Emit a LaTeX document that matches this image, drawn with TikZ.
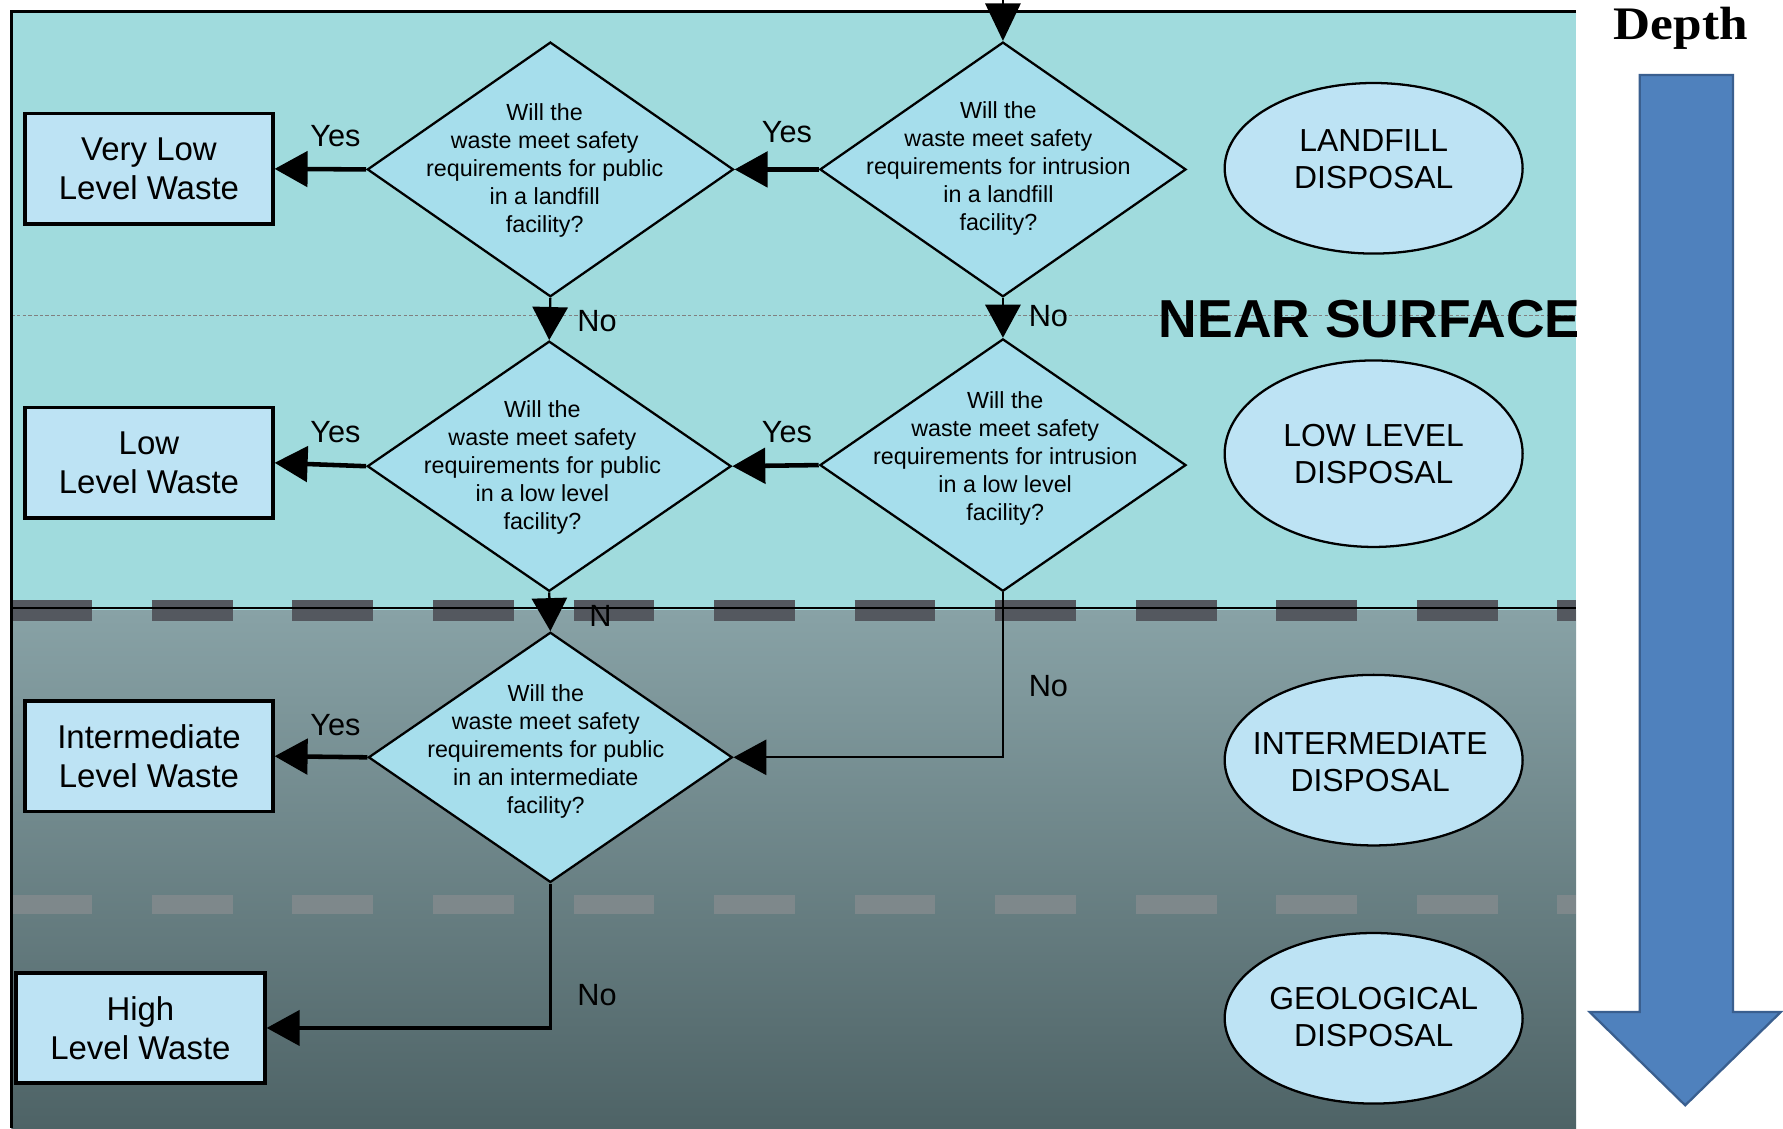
\documentclass[tikz,border=0pt]{standalone}
\usepackage{fontspec}
\setmainfont{Liberation Sans}
\newfontfamily\depthfont{Liberation Serif}
\usetikzlibrary{shapes.geometric,arrows.meta}
\definecolor{bgtop}{RGB}{160,219,221}
\definecolor{bgmid}{RGB}{136,162,166}
\definecolor{bgbot}{RGB}{78,99,102}
\definecolor{dashA}{RGB}{84,88,95}
\definecolor{dashB}{RGB}{126,136,139}
\definecolor{boxfill}{RGB}{189,227,244}
\definecolor{diafill}{RGB}{166,222,236}
\definecolor{arrowfill}{RGB}{79,129,189}
\definecolor{arrowline}{RGB}{58,95,143}
\begin{document}
\begin{tikzpicture}[x=1pt,y=-1pt,
  wbox/.style={draw=black, line width=3, fill=boxfill, minimum width=218, minimum height=97, inner sep=0, align=center, font=\fontsize{29}{34}\selectfont},
  dia/.style={diamond, draw=black, line width=2, fill=diafill, minimum width=322, minimum height=224, inner sep=0},
  qtext/.style={align=center, inner sep=0, font=\fontsize{20.5}{24.5}\selectfont},
  ell/.style={ellipse, draw=black, line width=2, fill=boxfill, minimum width=262, minimum height=150, inner sep=0},
  etext/.style={align=center, inner sep=0, font=\fontsize{28}{32.5}\selectfont},
  lab/.style={inner sep=0, font=\fontsize{27}{31}\selectfont},
  arr/.style={line width=4, -{Triangle[length=29,width=31]}},
  arrthin/.style={line width=2, -{Triangle[length=29,width=31]}}]
\useasboundingbox (0,0) rectangle (1568,992);
\fill[white] (0,0) rectangle (1568,992);
% backgrounds
\fill[bgtop] (10,10) rectangle (1386,537);
\shade[top color=bgmid, bottom color=bgbot] (10,537) rectangle (1386,992);
\draw[gray, line width=0.8, dash pattern=on 3 off 2] (10,277) -- (1386,277);
\draw[dashB, line width=16, dash pattern=on 71 off 52.6] (10,795.5) -- (1386,795.5);
\draw[dashA, line width=18, dash pattern=on 71 off 52.6] (10,537) -- (1386,537);
\draw[black, line width=2] (10,535) -- (1386,535);
\draw[black, line width=2.5] (1386,10) -- (10,10) -- (10,992);
% NEAR SURFACE
\begin{scope}
\clip (10,10) rectangle (1386,992);
\node[anchor=base west, inner sep=0] (ns) at (1019,296.7) {\bfseries\fontsize{47}{50}\selectfont NEAR SURFACE};
\end{scope}
% Depth arrow
\node[anchor=base, inner sep=0] (depth) at (1478,34.6) {\scalebox{1.1}[1]{\depthfont\bfseries\fontsize{41}{44}\selectfont Depth}};
\draw[fill=arrowfill, draw=arrowline, line width=2] (1442,66) -- (1524,66) -- (1524,890) -- (1566,890) -- (1482,972) -- (1398,890) -- (1442,890) -- cycle;
% result boxes
\node[wbox] (b1) at (131,148.5) {Very Low\\Level Waste};
\node[wbox] (b2) at (131,407) {Low\\Level Waste};
\node[wbox] (b3) at (131,665) {Intermediate\\Level Waste};
\node[wbox, minimum width=219] (b4) at (123.5,904) {High\\Level Waste};
% decisions
\node[dia] (d1) at (484,149) {};
\node[dia] (d2) at (882,149) {};
\node[dia, minimum width=320, minimum height=220] (d3) at (483,410) {};
\node[dia, minimum height=222] (d4) at (882,409) {};
\node[dia, minimum width=320, minimum height=220] (d5) at (484,666) {};
\node[qtext] (d1t) at (479,150) {Will the\\waste meet safety\\requirements for public\\in a landfill\\facility?};
\node[qtext] (d2t) at (878,148) {Will the\\waste meet safety\\requirements for intrusion\\in a landfill\\facility?};
\node[qtext] (d3t) at (477,411) {Will the\\waste meet safety\\requirements for public\\in a low level\\facility?};
\node[qtext] (d4t) at (884,403) {Will the\\waste meet safety\\requirements for intrusion\\in a low level\\facility?};
\node[qtext] (d5t) at (480,661) {Will the\\waste meet safety\\requirements for public\\in an intermediate\\facility?};
% disposal ellipses
\node[ell] (e1) at (1208,148) {};
\node[ell, minimum height=164] (e2) at (1208,399) {};
\node[ell] (e3) at (1208,668.5) {};
\node[ell] (e4) at (1208,895.5) {};
\node[etext] (e1t) at (1208,140) {LANDFILL\\DISPOSAL};
\node[etext] (e2t) at (1208,399) {LOW LEVEL\\DISPOSAL};
\node[etext] (e3t) at (1205,670) {INTERMEDIATE\\DISPOSAL};
\node[etext] (e4t) at (1208,894) {GEOLOGICAL\\DISPOSAL};
% connectors
\coordinate (start) at (882,0);
\draw[arrthin, -{Triangle[length=33,width=31]}] (start) -- (d2.north);
\draw[arr] (d2.west) -- (d1.east);
\draw[arr] (d1.west) -- (b1.east);
\draw[arrthin] (d1.south) -- (d3.north);
\draw[arrthin] (d2.south) -- (d4.north);
\draw[arr] (d4.west) -- (d3.east);
\draw[arr] (d3.west) -- (b2.east);
\draw[arrthin] (d3.south) -- (d5.north);
\draw[arrthin] (d4.south) |- (d5.east);
\draw[arr] (d5.west) -- (b3.east);
\draw[line width=3, -{Triangle[length=29,width=31]}] (d5.south) |- (b4.east);
% labels
\node[lab] (y1) at (295,120) {Yes};
\node[lab] (y2) at (692,116) {Yes};
\node[lab] (y3) at (295,380) {Yes};
\node[lab] (y4) at (692,380) {Yes};
\node[lab] (y5) at (295,638) {Yes};
\node[lab] (n1) at (525,282) {No};
\node[lab] (n2) at (922,278) {No};
\node[lab] (n3) at (528,542) {N};
\node[lab] (n4) at (922,603) {No};
\node[lab] (n5) at (525,875) {No};
\end{tikzpicture}
\end{document}
